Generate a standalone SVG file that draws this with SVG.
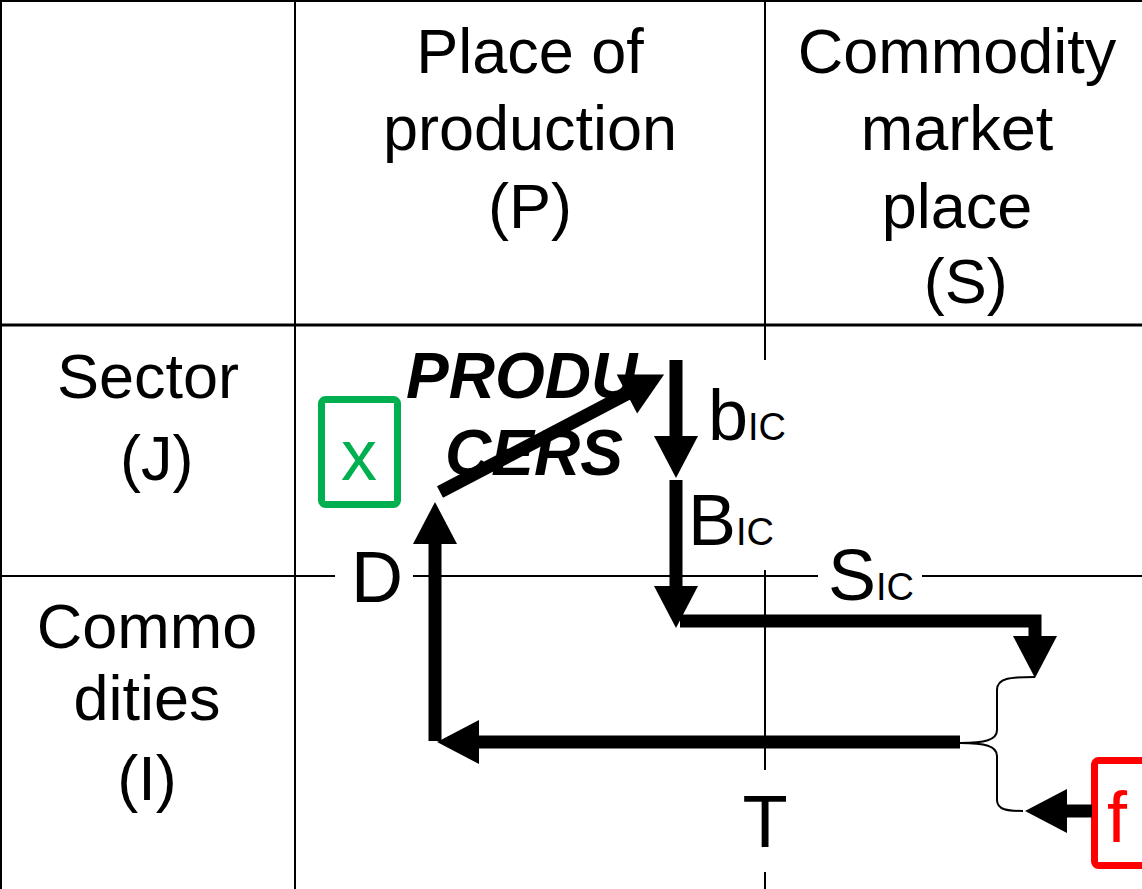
<svg xmlns="http://www.w3.org/2000/svg" width="1142" height="889" viewBox="0 0 1142 889">
<style>
.t{font-family:"Liberation Sans",Arial,sans-serif;fill:#000}
.hd{font-size:63px}
.lc{font-size:63px}
.lb{font-size:72px}
.sub{font-size:38px}
.grid{stroke:#000;stroke-width:2;fill:none}
.fl{stroke:#000;stroke-width:13;fill:none;stroke-linecap:butt;stroke-linejoin:miter}
.br{stroke:#000;stroke-width:2;fill:none}
</style>
<defs>
<marker id="ah" markerUnits="userSpaceOnUse" markerWidth="44" markerHeight="46" refX="1" refY="22" orient="auto" overflow="visible">
<path d="M0,0 L42,22 L0,44 z" fill="#000"/>
</marker>
</defs>
<rect width="1142" height="889" fill="#fff"/>
<g id="grid">
<line class="grid" x1="0" y1="1" x2="1142" y2="1"/>
<line class="grid" x1="1" y1="0" x2="1" y2="889"/>
<line class="grid" x1="0" y1="325" x2="1142" y2="325" style="stroke-width:3"/>
<line class="grid" x1="295" y1="0" x2="295" y2="889"/>
<line class="grid" x1="765" y1="0" x2="765" y2="360"/>
<line class="grid" x1="765" y1="570" x2="765" y2="770"/>
<line class="grid" x1="765" y1="872" x2="765" y2="889"/>
<line class="grid" x1="0" y1="576" x2="335" y2="576"/>
<line class="grid" x1="413" y1="576" x2="818" y2="576"/>
<line class="grid" x1="922" y1="576" x2="1142" y2="576"/>
</g>
<g id="headers">
<text class="t hd" text-anchor="middle"><tspan x="530" y="73">Place of</tspan><tspan x="530" y="150">production</tspan><tspan x="530" y="228">(P)</tspan></text>
<text class="t hd" text-anchor="middle" xml:space="preserve"><tspan x="957" y="73">Commodity</tspan><tspan x="957" y="150">market</tspan><tspan x="957" y="228">place</tspan><tspan x="957" y="303"> (S)</tspan></text>
</g>
<g id="rows">
<text class="t lc" text-anchor="middle" xml:space="preserve"><tspan x="148" y="398">Sector</tspan><tspan x="148" y="480"> (J)</tspan></text>
<text class="t lc" text-anchor="middle"><tspan x="147" y="648">Commo</tspan><tspan x="147" y="720">dities</tspan><tspan x="147" y="800">(I)</tspan></text>
</g>
<g id="producers">
<text class="t" font-size="64" font-weight="bold" font-style="italic"><tspan x="406" y="398">PRODU</tspan><tspan x="445" y="475">CERS</tspan></text>
</g>
<g id="node-x">
<rect x="321.5" y="399.5" width="76" height="105" rx="4" fill="none" stroke="#00B050" stroke-width="7"/>
<text class="t" x="359" y="480" font-size="72" text-anchor="middle" style="fill:#00B050">x</text>
</g>
<g id="node-f">
<rect x="1094.5" y="760.5" width="60" height="105" rx="4" fill="none" stroke="#FF0000" stroke-width="7"/>
<text class="t" x="1107" y="842" font-size="72" style="fill:#FF0000">f</text>
</g>
<g id="labels">
<text class="t lb" x="708" y="440">b<tspan class="sub">IC</tspan></text>
<text class="t lb" x="688" y="545">B<tspan class="sub">IC</tspan></text>
<text class="t lb" x="828" y="600">S<tspan class="sub">IC</tspan></text>
<text class="t lb" x="351" y="602">D</text>
<text class="t" x="765" y="847" font-size="74" text-anchor="middle">T</text>
</g>
<g id="connectors">
<path class="fl" d="M440,492 L627.8,393.5" marker-end="url(#ah)"/>
<path class="fl" d="M676,360 V437" marker-end="url(#ah)"/>
<path class="fl" d="M676,480 V587" marker-end="url(#ah)"/>
<path class="fl" d="M680,621 H1035 V637" marker-end="url(#ah)"/>
<path class="fl" d="M960,742 H478" marker-end="url(#ah)"/>
<path class="fl" d="M435,741 V543" marker-end="url(#ah)"/>
<path class="fl" d="M1092,811 H1066" marker-end="url(#ah)"/>
<path class="br" d="M1035,677 C1010,677 997,678 997,690 V730 C997,740 985,743 960,743 C985,743 997,746 997,756 V800 C997,810 1008,811 1023,811"/>
</g>
</svg>
